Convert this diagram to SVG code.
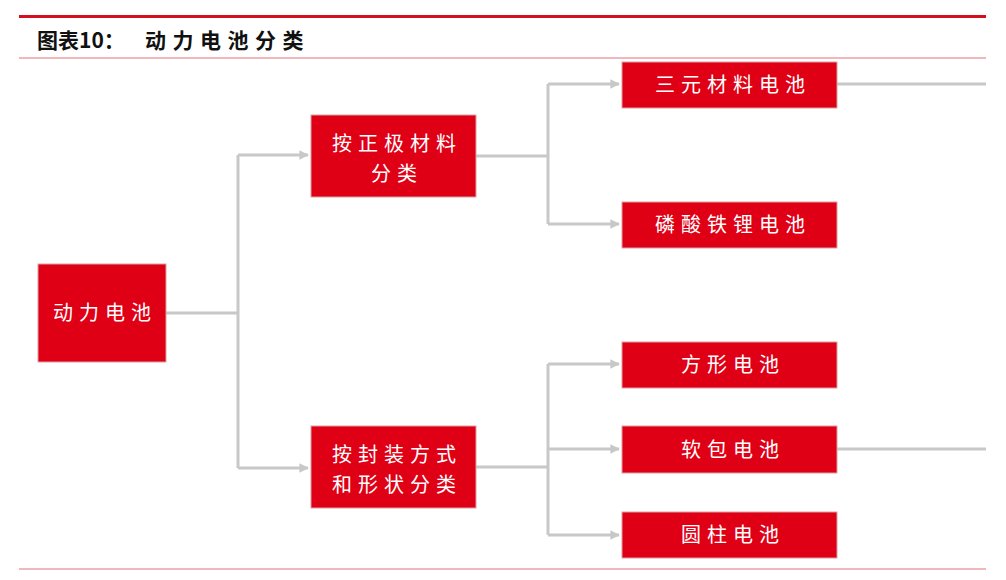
<svg xmlns="http://www.w3.org/2000/svg" width="1006" height="580" viewBox="0 0 1006 580">
<style>
.box{fill:#e00016;stroke:#d8a0a4;stroke-width:1}
.lbl{font-family:"Noto Sans CJK SC","Noto Sans CJK JP",sans-serif;font-size:20px;fill:#ffffff;text-anchor:middle;letter-spacing:6px}
.conn{fill:none;stroke:#c8c8c8;stroke-width:3}
.title{font-family:"Noto Sans CJK SC","Noto Sans CJK JP",sans-serif;font-size:21px;font-weight:bold;fill:#111111}
</style>
<defs>
<marker id="arr" viewBox="0 0 10 10" refX="9" refY="5" markerWidth="3.2" markerHeight="3.2" orient="auto" markerUnits="strokeWidth">
<path d="M0,0 L10,5 L0,10 z" fill="#c8c8c8"/>
</marker>
</defs>
<rect width="1006" height="580" fill="#ffffff"/>
<line x1="19" y1="16.5" x2="986" y2="16.5" stroke="#d4101e" stroke-width="3"/>
<line x1="19" y1="58" x2="986" y2="58" stroke="#e4707a" stroke-width="1.2"/>
<line x1="19" y1="569" x2="986" y2="569" stroke="#e4707a" stroke-width="1.2"/>
<text class="title" x="37" y="48">图表10：<tspan x="145" letter-spacing="6.5">动力电池分类</tspan></text>
<g id="connectors">
<path class="conn" d="M166,313 H238"/>
<path class="conn" d="M238,155 V468"/>
<path class="conn" d="M238,155 H308" marker-end="url(#arr)"/>
<path class="conn" d="M238,468 H308" marker-end="url(#arr)"/>
<path class="conn" d="M476,156 H548"/>
<path class="conn" d="M548,84 V224"/>
<path class="conn" d="M548,84 H619" marker-end="url(#arr)"/>
<path class="conn" d="M548,224 H619" marker-end="url(#arr)"/>
<path class="conn" d="M476,467 H548"/>
<path class="conn" d="M548,364 V535"/>
<path class="conn" d="M548,364 H619" marker-end="url(#arr)"/>
<path class="conn" d="M548,449 H619" marker-end="url(#arr)"/>
<path class="conn" d="M548,535 H619" marker-end="url(#arr)"/>
<path class="conn" d="M837,84 H986"/>
<path class="conn" d="M837,449 H986"/>
</g>
<g id="n-root">
<rect class="box" x="38" y="264" width="128" height="98"/>
<text class="lbl" x="105" y="320">动力电池</text>
</g>
<g id="n-cathode">
<rect class="box" x="311" y="115" width="165" height="82"/>
<text class="lbl" x="397" y="151">按正极材料</text>
<text class="lbl" x="397" y="181">分类</text>
</g>
<g id="n-package">
<rect class="box" x="311" y="426" width="165" height="82"/>
<text class="lbl" x="397" y="462">按封装方式</text>
<text class="lbl" x="397" y="492">和形状分类</text>
</g>
<g id="n-ncm">
<rect class="box" x="622" y="62" width="215" height="46"/>
<text class="lbl" x="733" y="92">三元材料电池</text>
</g>
<g id="n-lfp">
<rect class="box" x="622" y="202" width="215" height="46"/>
<text class="lbl" x="733" y="232">磷酸铁锂电池</text>
</g>
<g id="n-prism">
<rect class="box" x="622" y="342" width="215" height="46"/>
<text class="lbl" x="733" y="372">方形电池</text>
</g>
<g id="n-pouch">
<rect class="box" x="622" y="426" width="215" height="47"/>
<text class="lbl" x="733" y="457">软包电池</text>
</g>
<g id="n-cyl">
<rect class="box" x="622" y="512" width="215" height="46"/>
<text class="lbl" x="733" y="542">圆柱电池</text>
</g>
</svg>
